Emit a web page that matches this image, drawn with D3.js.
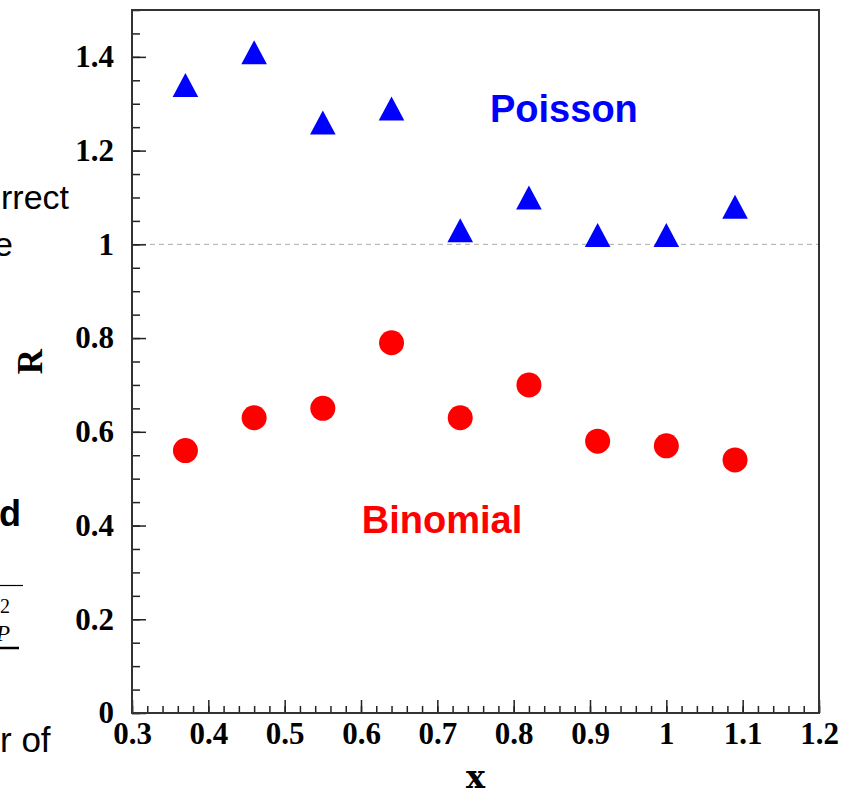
<!DOCTYPE html>
<html>
<head>
<meta charset="utf-8">
<script src="https://cdn.jsdelivr.net/npm/d3@7"></script>
<style>
  body { margin: 0; background: #fff; }
  svg { display: block; }
  .tick text { font-family: "Liberation Serif", "Times New Roman", serif; font-weight: bold; font-size: 31px; fill: #000; }
  .slide { font-family: "Liberation Sans", Arial, sans-serif; fill: #000; }
</style>
</head>
<body>
<div id="chart"></div>
<script>
// x positions of the measurements
var xVals = [0.37, 0.46, 0.55, 0.64, 0.73, 0.82, 0.91, 1.0, 1.09];
var poisson = [1.34, 1.41, 1.26, 1.29, 1.03, 1.10, 1.02, 1.02, 1.08];
var binomial = [0.56, 0.63, 0.65, 0.79, 0.63, 0.70, 0.58, 0.57, 0.54];

var xTicks = [0.3, 0.4, 0.5, 0.6, 0.7, 0.8, 0.9, 1, 1.1, 1.2];
var xTickLabels = ["0.3", "0.4", "0.5", "0.6", "0.7", "0.8", "0.9", "1", "1.1", "1.2"];
var yTicks = [0, 0.2, 0.4, 0.6, 0.8, 1, 1.2, 1.4];
var yTickLabels = ["0", "0.2", "0.4", "0.6", "0.8", "1", "1.2", "1.4"];

var W = 846, H = 792;
var margin = {left: 132, right: 819, top: 10, bottom: 713};

var svg = d3.select("#chart").append("svg")
  .attr("width", W)
  .attr("height", H);

var x = d3.scaleLinear().domain([0.3, 1.2]).range([margin.left, margin.right]);
var y = d3.scaleLinear().domain([0, 1.5]).range([margin.bottom, margin.top]);

// bits of the slide text cut off at the left edge
svg.append("text").attr("class", "slide").attr("x", 1).attr("y", 209)
  .style("font-size", "34px").text("rrect");
svg.append("text").attr("class", "slide").attr("x", -6).attr("y", 256)
  .style("font-size", "34px").text("e");
svg.append("text").attr("class", "slide").attr("x", -1).attr("y", 526)
  .style("font-size", "36px").style("font-weight", "bold").text("d");
svg.append("line").attr("x1", 0).attr("x2", 23).attr("y1", 585.5).attr("y2", 585.5)
  .attr("stroke", "#000").attr("stroke-width", 1.2);
svg.append("text").attr("x", 0).attr("y", 613)
  .style("font-family", "Liberation Serif, serif")
  .style("font-size", "20px").text("2");
svg.append("text").attr("x", -4).attr("y", 641)
  .style("font-family", "Liberation Serif, serif").style("font-style", "italic")
  .style("font-size", "23px").text("P");
svg.append("line").attr("x1", 0).attr("x2", 19).attr("y1", 648).attr("y2", 648)
  .attr("stroke", "#000").attr("stroke-width", 2.5);
svg.append("text").attr("class", "slide").attr("x", 0).attr("y", 752)
  .style("font-size", "35px").text("r of");

// reference line at R = 1
svg.append("line")
  .attr("x1", x(0.3)).attr("x2", x(1.2))
  .attr("y1", y(1)).attr("y2", y(1))
  .attr("stroke", "#aaa")
  .attr("stroke-width", 1)
  .attr("stroke-dasharray", "5,4");

// minor ticks
svg.append("g")
  .attr("transform", "translate(0," + margin.bottom + ")")
  .call(d3.axisBottom(x).tickValues(d3.range(0.3, 1.2001, 0.02)).tickSize(-7).tickSizeOuter(0).tickFormat(""))
  .call(g => g.select(".domain").remove());
svg.append("g")
  .attr("transform", "translate(" + margin.left + ",0)")
  .call(d3.axisLeft(y).tickValues(d3.range(0, 1.5001, 0.05)).tickSize(-8).tickSizeOuter(0).tickFormat(""))
  .call(g => g.select(".domain").remove());

// major ticks + labels
svg.append("g")
  .attr("class", "x axis")
  .attr("transform", "translate(0," + margin.bottom + ")")
  .call(d3.axisBottom(x).tickValues(xTicks).tickSize(-13).tickSizeOuter(0).tickPadding(9)
    .tickFormat((d, i) => xTickLabels[i]))
  .call(g => g.select(".domain").remove());
svg.append("g")
  .attr("class", "y axis")
  .attr("transform", "translate(" + margin.left + ",0)")
  .call(d3.axisLeft(y).tickValues(yTicks).tickSize(-14).tickSizeOuter(0).tickPadding(18)
    .tickFormat((d, i) => yTickLabels[i]))
  .call(g => g.select(".domain").remove());

svg.selectAll(".tick line").attr("stroke", "#222").attr("stroke-width", 1.5);

// frame
svg.append("rect")
  .attr("x", margin.left).attr("y", margin.top)
  .attr("width", margin.right - margin.left).attr("height", margin.bottom - margin.top)
  .attr("fill", "none")
  .attr("stroke", "#333")
  .attr("stroke-width", 2);

// axis titles
svg.append("text")
  .attr("x", (margin.left + margin.right) / 2).attr("y", 788)
  .attr("text-anchor", "middle")
  .style("font-family", "DejaVu Serif, serif").style("font-weight", "bold")
  .style("font-size", "32px")
  .text("x");
svg.append("text")
  .attr("transform", "translate(42," + ((margin.top + margin.bottom) / 2) + ") rotate(-90)")
  .attr("text-anchor", "middle")
  .style("font-family", "Liberation Serif, serif").style("font-weight", "bold")
  .style("font-size", "35px")
  .text("R");

// Binomial points
svg.append("g").selectAll("circle")
  .data(binomial)
  .enter().append("circle")
  .attr("cx", (d, i) => x(xVals[i]))
  .attr("cy", d => y(d))
  .attr("r", 12.5)
  .attr("fill", "#ff0000");

// Poisson points
svg.append("g").selectAll("path")
  .data(poisson)
  .enter().append("path")
  .attr("d", "M0,-12L12.8,12L-12.8,12Z")
  .attr("transform", (d, i) => "translate(" + x(xVals[i]) + "," + y(d) + ")")
  .attr("fill", "#0000ff");

// labels
svg.append("text")
  .attr("x", x(0.769)).attr("y", y(1.26))
  .style("font-family", "Liberation Sans, Arial, sans-serif").style("font-weight", "bold")
  .style("font-size", "38px").attr("fill", "#0000ff")
  .text("Poisson");
svg.append("text")
  .attr("x", x(0.601)).attr("y", y(0.384))
  .style("font-family", "Liberation Sans, Arial, sans-serif").style("font-weight", "bold")
  .style("font-size", "38px").attr("fill", "#ff0000")
  .text("Binomial");
</script>
</body>
</html>
